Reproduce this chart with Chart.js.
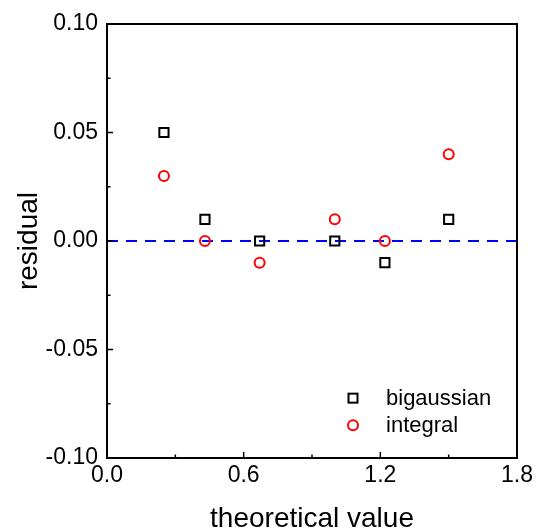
<!DOCTYPE html>
<html>
<head>
<meta charset="utf-8">
<script src="https://cdn.jsdelivr.net/npm/chart.js@4.4.1/dist/chart.umd.min.js"></script>
<style>
html,body{margin:0;padding:0;background:#fff;}
#wrap{width:537px;height:531px;position:relative;}
</style>
</head>
<body>
<div id="wrap"><canvas id="c" width="537" height="531"></canvas></div>
<script>
const seriesNames = ["bigaussian", "integral"];
const xValues = [0.25, 0.43, 0.67, 1.0, 1.22, 1.5];
const bigaussianValues = [0.05, 0.01, 0.0, 0.0, -0.01, 0.01];
const integralValues = [0.03, 0.0, -0.01, 0.01, 0.0, 0.04];
const refLineX = [0, 1.8];
const refLineY = [0, 0];
const xTicks = [0.0, 0.6, 1.2, 1.8];
const yTicks = [-0.10, -0.05, 0.00, 0.05, 0.10];
const xMinorTicks = [0.3, 0.9, 1.5];
const yMinorTicks = [-0.075, -0.025, 0.025, 0.075];

const FONT = "'Liberation Sans', Arial, sans-serif";

const toPts = (xs, ys) => xs.map((x, i) => ({x: x, y: ys[i]}));

const framePlugin = {
  id: 'frame',
  afterDatasetsDraw(chart) {
    const {ctx, chartArea: a, scales} = chart;
    const xs = scales.x, ys = scales.y;
    ctx.save();
    ctx.strokeStyle = '#000';
    ctx.lineWidth = 2;
    ctx.strokeRect(a.left, a.top, a.right - a.left, a.bottom - a.top);
    ctx.lineWidth = 1.5;
    ctx.beginPath();
    xTicks.forEach(v => { const px = xs.getPixelForValue(v); ctx.moveTo(px, a.bottom); ctx.lineTo(px, a.bottom - 6); });
    xMinorTicks.forEach(v => { const px = xs.getPixelForValue(v); ctx.moveTo(px, a.bottom); ctx.lineTo(px, a.bottom - 3.5); });
    yTicks.forEach(v => { const py = ys.getPixelForValue(v); ctx.moveTo(a.left, py); ctx.lineTo(a.left + 6, py); });
    yMinorTicks.forEach(v => { const py = ys.getPixelForValue(v); ctx.moveTo(a.left, py); ctx.lineTo(a.left + 3.5, py); });
    ctx.stroke();
    // legend inside plot
    const items = [
      {ds: chart.data.datasets[1], y: ys.getPixelForValue(-0.0715) + 2},
      {ds: chart.data.datasets[2], y: ys.getPixelForValue(-0.0840) + 2}
    ];
    const mx = xs.getPixelForValue(1.08);
    ctx.font = '22px ' + FONT;
    ctx.textBaseline = 'middle';
    ctx.textAlign = 'left';
    items.forEach(it => {
      ctx.strokeStyle = it.ds.borderColor;
      ctx.lineWidth = it.ds.borderWidth;
      if (it.ds.pointStyle === 'rect') {
        ctx.strokeRect(mx - 4.5, it.y - 4.5, 9, 9);
      } else {
        ctx.beginPath(); ctx.arc(mx, it.y, 5, 0, Math.PI * 2); ctx.stroke();
      }
      ctx.fillStyle = '#000';
      ctx.fillText(it.ds.label, mx + 33, it.y + 1);
    });
    ctx.restore();
  }
};

new Chart(document.getElementById('c'), {
  type: 'scatter',
  data: {
    datasets: [
      {
        label: 'zero',
        type: 'line',
        data: toPts(refLineX, refLineY),
        borderColor: '#0000ff',
        borderWidth: 2,
        borderDash: [11, 8],
        pointRadius: 0,
        fill: false,
        order: 3
      },
      {
        label: seriesNames[0],
        data: toPts(xValues, bigaussianValues),
        pointStyle: 'rect',
        pointRadius: 6.5,
        borderColor: '#000000',
        backgroundColor: 'rgba(0,0,0,0)',
        borderWidth: 2,
        order: 1
      },
      {
        label: seriesNames[1],
        data: toPts(xValues, integralValues),
        pointStyle: 'circle',
        pointRadius: 5,
        borderColor: '#ff0000',
        backgroundColor: 'rgba(0,0,0,0)',
        borderWidth: 2,
        order: 2
      }
    ]
  },
  options: {
    responsive: false,
    animation: false,
    layout: {padding: {top: 24, right: 19, left: 0, bottom: 0}},
    plugins: {legend: {display: false}, tooltip: {enabled: false}},
    scales: {
      x: {
        type: 'linear',
        min: 0, max: 1.8,
        afterBuildTicks(s) { s.ticks = xTicks.map(v => ({value: v})); },
        afterFit(s) { s.height = 73; },
        grid: {display: false, drawTicks: false},
        border: {display: false},
        ticks: {
          padding: 4,
          color: '#000',
          font: {family: FONT, size: 23},
          callback: v => Number(v).toFixed(1)
        },
        title: {
          display: true,
          text: 'theoretical value',
          color: '#000',
          font: {family: FONT, size: 28},
          padding: {top: 0, bottom: -5}
        }
      },
      y: {
        type: 'linear',
        min: -0.1, max: 0.1,
        afterBuildTicks(s) { s.ticks = yTicks.map(v => ({value: v})); },
        afterFit(s) { s.width = 107; },
        grid: {display: false, drawTicks: false},
        border: {display: false},
        ticks: {
          padding: 9,
          color: '#000',
          font: {family: FONT, size: 23},
          callback: v => Number(v).toFixed(2)
        },
        title: {
          display: true,
          text: 'residual',
          color: '#000',
          font: {family: FONT, size: 28},
          padding: {top: 12, bottom: 0}
        }
      }
    }
  },
  plugins: [framePlugin]
});
</script>
</body>
</html>
